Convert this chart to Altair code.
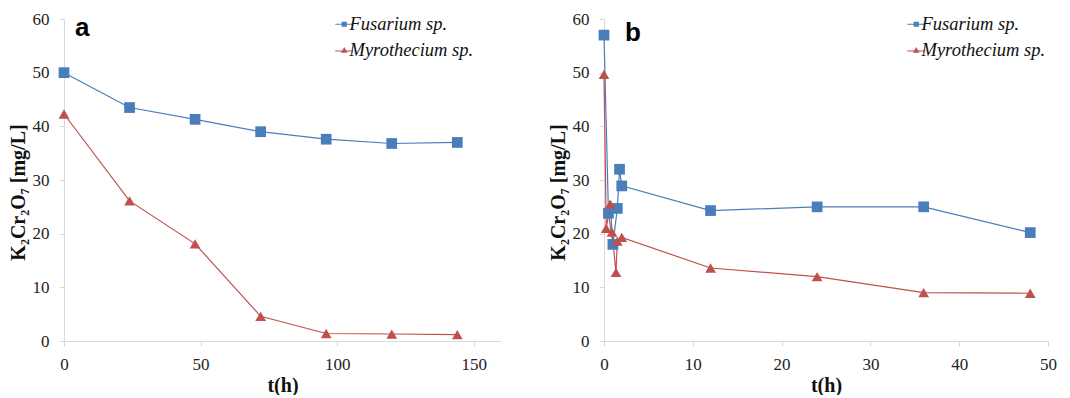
import altair as alt
import pandas as pd

series = ["Fusarium sp.", "Myrothecium sp."]
colors = ["#4A7EBB", "#C0504D"]
shapes = ["square", "triangle-up"]
legend_shapes = [
    "M-0.94,-0.11H2.46V0.11H-0.94Z M0.26,-0.5H1.26V0.5H0.26Z",
    "M-0.94,0.04H2.46V0.26H-0.94Z M0.76,-0.6L1.38,0.48L0.14,0.48Z",
]

a_t_fus = [0, 24, 48, 72, 96, 120, 144]
a_y_fus = [50.0, 43.5, 41.3, 39.0, 37.6, 36.8, 37.0]
a_t_myr = [0, 24, 48, 72, 96, 120, 144]
a_y_myr = [42.3, 26.1, 18.1, 4.6, 1.4, 1.3, 1.2]

b_t_fus = [0, 0.5, 1, 1.5, 1.75, 2, 12, 24, 36, 48]
b_y_fus = [57.0, 23.8, 18.0, 24.7, 32.0, 28.9, 24.3, 25.0, 25.0, 20.2]
b_t_myr = [0, 0.25, 0.7, 0.9, 1.35, 1.5, 2, 12, 24, 36, 48]
b_y_myr = [49.7, 21.0, 25.5, 20.3, 12.8, 18.6, 19.3, 13.6, 12.0, 9.0, 8.9]


def frame(tf, yf, tm, ym):
    rows = []
    for i, (t, v) in enumerate(zip(tf, yf)):
        rows.append({"t": t, "v": v, "series": series[0], "i": i})
    for i, (t, v) in enumerate(zip(tm, ym)):
        rows.append({"t": t, "v": v, "series": series[1], "i": i})
    return pd.DataFrame(rows)


SERIF = "Liberation Serif"


def panel(df, xmax, xstep, letter, lx, ly, letter_dx, letter_y, width):
    x = alt.X("t:Q", title="t(h)",
              scale=alt.Scale(domain=[0, xmax], nice=False),
              axis=alt.Axis(values=list(range(0, xmax + 1, xstep)),
                            grid=False, labelFlush=False))
    y = alt.Y("v:Q", title="K₂Cr₂O₇ [mg/L]",
              scale=alt.Scale(domain=[0, 60], nice=False),
              axis=alt.Axis(values=list(range(0, 61, 10)), grid=False,
                            titleY=173))
    cscale = alt.Scale(domain=series, range=colors)
    base = alt.Chart(df).encode(x=x, y=y)
    line = base.mark_line(strokeWidth=1.2).encode(
        color=alt.Color("series:N", scale=cscale, legend=None),
        order=alt.Order("i:Q"))
    pts = base.mark_point(filled=True, opacity=1, size=115).encode(
        color=alt.Color("series:N", scale=cscale, legend=None),
        shape=alt.Shape("series:N", scale=alt.Scale(domain=series, range=shapes),
                        legend=None))
    layers = [line, pts]
    for k, s in enumerate(series):
        lg = alt.Legend(
            title=None, orient="none", legendX=lx, legendY=ly + 26 * k,
            labelFont=SERIF, labelFontSize=18.5, labelFontStyle="italic",
            labelColor="#111", symbolSize=110, labelOffset=0,
            symbolOpacity=1, symbolStrokeWidth=0, symbolFillColor=colors[k],
        )
        leg = base.transform_filter("false").mark_point(
            filled=True, color=colors[k], size=110).encode(
            shape=alt.Shape("series:N",
                            scale=alt.Scale(domain=[s], range=[legend_shapes[k]]),
                            legend=lg))
        layers.append(leg)
    lab = alt.Chart(pd.DataFrame({"s": [letter]})).mark_text(
        font="Liberation Sans", fontSize=26, fontWeight="bold",
        align="left", baseline="alphabetic", color="black"
    ).encode(text="s:N", x=alt.value(letter_dx), y=alt.value(letter_y))
    layers.append(lab)
    return alt.layer(*layers).resolve_scale(
        shape="independent").properties(width=width, height=322)


pa = panel(frame(a_t_fus, a_y_fus, a_t_myr, a_y_myr), 160, 50, "a",
           267, -4, 11, 17, 437)
pb = panel(frame(b_t_fus, b_y_fus, b_t_myr, b_y_myr), 50, 10, "b",
           299, -4, 21, 22, 444)

chart = alt.hconcat(pa, pb, spacing=47).resolve_scale(
    color="independent", shape="independent"
).configure_axis(
    domainColor="#D9D9D9", tickColor="#D9D9D9", tickSize=5,
    labelFont=SERIF, labelFontSize=17, labelColor="#222",
    titleFont=SERIF, titleFontSize=20, titleFontWeight="bold", titleColor="#111",
    labelPadding=10,
).configure_axisX(titlePadding=3).configure_axisY(titlePadding=4).configure_view(
    stroke=None
).properties(padding={"left": 0, "top": 2, "right": 0, "bottom": 0})

chart.save("out.html", embed_options={"renderer": "svg", "actions": False})
